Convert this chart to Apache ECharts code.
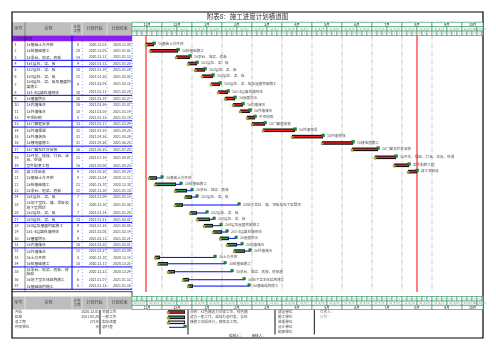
<!DOCTYPE html>
<html>
<head>
<meta charset="utf-8">
<title>施工进度计划横道图</title>
<script src="https://cdn.jsdelivr.net/npm/echarts@6.0.0/dist/echarts.min.js"></script>
<style>
html, body { margin: 0; padding: 0; background: #fff; }
#main { width: 496px; height: 351px; }
</style>
</head>
<body>
<div id="main"></div>
<script>
// ---- 数据 ----
var axisOrigin = '2020-11-17';   // 横道区第0天
var axisDays = 351;
var summaryRow = '工程总进度';
var taskNames = [
    '1#基础土方开挖', '1#桩基础施工', '1#承台、地梁、底板', '1#1层柱、梁、板', '1#2层柱、梁、板',
    '1#3层柱、梁、板', '1#4层柱、梁、板及屋面构架施工', '1#1-4层填充墙砌体', '1#屋面防水', '1#内墙抹灰',
    '1#外墙抹灰', '平顶粉刷', '1#门窗框安装', '1#外墙保温', '1#外墙装饰',
    '1#楼地面施工', '1#门窗及栏杆安装', '1#开关、插座、灯具、洁具、空调', '室外配套工程', '竣工预验收',
    '2#基础土方开挖', '2#桩基础施工', '2#承台、地梁、底板', '2#1层柱、梁、板', '2#地下室柱、墙、顶板及地下室回顶',
    '2#2层柱、梁、板', '2#3层柱、梁、板', '2#4层及屋面构架施工', '2#1-4层填充墙砌体', '2#屋面防水',
    '2#内墙抹灰', '2#外墙抹灰', '3#土方开挖', '3#桩基础施工', '3#承台、地梁、底板、砖胎模',
    '3#地下室主体结构施工', '3#基础结构施工'
];
var taskStarts = [
    '2020-12-01', '2020-12-05', '2020-12-31', '2021-01-12', '2021-01-19',
    '2021-01-26', '2021-02-04', '2021-02-11', '2021-02-18', '2021-02-26',
    '2021-03-05', '2021-03-12', '2021-03-17', '2021-03-28', '2021-04-26',
    '2021-05-26', '2021-06-25', '2021-07-18', '2021-08-06', '2021-08-20',
    '2020-12-04', '2020-12-10', '2020-12-30', '2021-01-09', '2020-12-30',
    '2021-01-14', '2021-01-21', '2021-01-28', '2021-02-06', '2021-02-13',
    '2021-02-20', '2021-02-27', '2020-12-10', '2020-12-13', '2020-12-23',
    '2021-01-07', '2021-01-12'
];
var taskDurations = [
    8, 28, 14, 9, 10, 11, 9, 10, 10, 10,
    10, 8, 13, 32, 31, 31, 26, 21, 15, 9,
    8, 21, 12, 7, 8, 7, 13, 9, 9, 9,
    10, 11, 5, 10, 7, 6, 5
];
// 非关键工作的最迟完成（蓝线终点），关键工作为 null
var taskLateFinish = [
    null, null, null, null, null, null, null, null, null, null,
    null, null, null, null, null, null, null, null, null, null,
    '2020-12-17', '2021-01-05', '2021-01-16', '2021-01-21', '2021-03-04',
    '2021-01-31', '2021-02-07', '2021-02-14', '2021-02-20', '2021-03-01',
    '2021-03-07', '2021-03-15', '2021-02-08', '2021-02-18', '2021-02-25',
    '2021-03-09', '2021-03-14'
];
var monthLabels = ['11月', '12月', '1月', '2月', '3月', '4月', '5月', '6月', '7月', '8月', '9月', '10月'];
var gridDays = [30, 60, 90, 120, 150, 180, 210, 240, 270, 300];
var headCols = ['序号', '名称', '计划\n工期', '计划开始', '计划结束'];
var legendNames = ['关键工作', '一般工作', '实际进度', '总时差'];
var infoLabels = ['开始', '结束', '总工期', '时间单位'];
var signUnits = ['建设单位', '施工单位', '监理单位', '设计单位', '勘察单位'];
var noteLines = ['说明：红色横道为关键工作，绿色横', '道为一般工作，蓝线为总时差，各栋', '楼施工穿插进行，确保总工期。'];
var blueRuleRows = [3, 4, 8, 9, 12, 13, 16, 17, 19, 23, 26, 27, 30, 31, 34];

// ---- 版式 ----
var FONT = '"Noto Sans CJK SC", "Noto Sans", sans-serif';
var GT = 35.5, GH = 256.5;
var ROW0 = 5.8, RH1 = 6.35, RH2 = 9.6;
var NAME_W = 45;
var colEdges = [12, 25, 72, 82, 107, 132];

var ORIGIN = Date.parse(axisOrigin + 'T00:00:00Z');
function dayOf(s) { return Math.round((Date.parse(s + 'T00:00:00Z') - ORIGIN) / 86400000); }
function dateOf(d) { return new Date(ORIGIN + d * 86400000).toISOString().slice(0, 10); }
function shortDate(d) {
    var t = new Date(ORIGIN + d * 86400000);
    return String(t.getUTCFullYear()).slice(2) + '/' + (t.getUTCMonth() + 1) + '/' + t.getUTCDate();
}
function textLen(s, fs) {
    var w = 0;
    for (var k = 0; k < s.length; k++) w += s.charCodeAt(k) > 255 ? fs : fs * 0.56;
    return w;
}

var rowTop = [];
(function () {
    var acc = ROW0;
    taskNames.forEach(function (n) {
        rowTop.push(acc);
        acc += textLen(n, 3.8) > NAME_W ? RH2 : RH1;
    });
    rowTop.push(acc);
})();

var tasks = taskNames.map(function (n, i) {
    var s = dayOf(taskStarts[i]);
    var e = s + taskDurations[i];
    var l = taskLateFinish[i] ? dayOf(taskLateFinish[i]) : -1;
    return [i, s, e, l];
});
var projStart = Math.min.apply(null, tasks.map(function (t) { return t[1]; }));
var projEnd = Math.max.apply(null, tasks.map(function (t) { return t[2]; }));
var infoValues = [dateOf(projStart), dateOf(projEnd - 1), (projEnd - projStart) + '天', '天'];

var headCells = [];
[30, 15, 5].forEach(function (step, tier) {
    for (var d = 0; d < axisDays; d += step) headCells.push([tier, d, Math.min(d + step, axisDays)]);
});

// ---- 绘制函数 ----
function txt(x, y, s, fs, align, fill) {
    return {
        type: 'text', x: x, y: y,
        style: { text: s, fontSize: fs, fontFamily: FONT, fill: fill || '#333', align: align || 'left', verticalAlign: 'middle' }
    };
}

function renderRow(params, api) {
    var i = api.value(0);
    var yTop = api.coord([0, rowTop[i]])[1], yBot = api.coord([0, rowTop[i + 1]])[1];
    var cy = (yTop + yBot) / 2;
    var X = function (v) { return api.coord([v, 0])[0]; };
    var t = tasks[i];
    var name = txt(X(14.5), cy, taskNames[i], 3.8, 'left');
    name.style.width = NAME_W;
    name.style.overflow = 'break';
    name.style.lineHeight = 4.4;
    return {
        type: 'group', children: [
            txt(X(2.5), cy, String(i + 1), 3.6, 'left'),
            name,
            txt(X(66), cy, String(taskDurations[i]), 3.6, 'center'),
            txt(X(94.3), cy, dateOf(t[1]), 3.4, 'right', '#444'),
            txt(X(118.7), cy, dateOf(t[2] - 1), 3.4, 'right', '#444')
        ]
    };
}

function renderBar(params, api) {
    var i = api.value(0), s = api.value(1), e = api.value(2), l = api.value(3);
    var cy = api.coord([0, (rowTop[i] + rowTop[i + 1]) / 2])[1];
    var x0 = api.coord([s, 0])[0], x1 = api.coord([e, 0])[0];
    var crit = l < 0;
    var kids = [];
    var tail = x1;
    if (!crit) {
        var xl = api.coord([l, 0])[0];
        kids.push({ type: 'line', shape: { x1: x1, y1: cy, x2: xl, y2: cy }, style: { stroke: '#0000ff', lineWidth: 1 } });
        kids.push({ type: 'rect', shape: { x: xl - 1.2, y: cy - 2.4, width: 2.6, height: 2.6 }, style: { fill: '#1e8c3a', stroke: '#0b4d1c', lineWidth: 0.4 } });
        tail = xl;
    }
    kids.push({ type: 'rect', shape: { x: x0, y: cy - 1.8, width: x1 - x0, height: 3.6 }, style: { fill: '#111' } });
    kids.push({ type: 'rect', shape: { x: x0 + 0.8, y: cy - 0.7, width: Math.max(x1 - x0 - 1.6, 0), height: 1.4 }, style: { fill: crit ? '#ff1a1a' : '#2f9e5a' } });
    kids.push({ type: 'rect', shape: { x: x0 - 0.8, y: cy - 0.6, width: 2.4, height: 2.4 }, style: { fill: '#c9b21b', stroke: '#333', lineWidth: 0.3 } });
    if (crit) {
        kids.push({ type: 'rect', shape: { x: x1 - 1.3, y: cy - 2.6, width: 2.8, height: 2.8 }, style: { fill: '#1e8c3a', stroke: '#0b4d1c', lineWidth: 0.4 } });
    }
    kids.push(txt(tail + 4, cy - 0.6, taskNames[i], 3.6, 'left', '#555'));
    return { type: 'group', children: kids };
}

function renderHead(band) {
    return function (params, api) {
        var cs = params.coordSys;
        var tier = api.value(0), d0 = api.value(1), d1 = api.value(2);
        var x0 = api.coord([d0, 0])[0], x1 = api.coord([d1, 0])[0];
        var h = 4.4;
        var y0 = band === 0 ? cs.y - 13.2 + tier * h : cs.y + cs.height + 4.5 + (2 - tier) * 4.3;
        var label, fs, fill;
        if (tier === 0) { label = monthLabels[Math.round(d0 / 30)] || ''; fs = 3.4; fill = '#222'; }
        else if (tier === 1) { label = shortDate(d0); fs = 2.8; fill = '#888'; }
        else { label = String(new Date(ORIGIN + d0 * 86400000).getUTCDate()); fs = 2.4; fill = '#999'; }
        return {
            type: 'group', children: [
                { type: 'rect', shape: { x: x0, y: y0, width: x1 - x0, height: h }, style: { fill: '#fff', stroke: '#3a9b6b', lineWidth: 0.7 } },
                txt((x0 + x1) / 2, y0 + h / 2 + 0.2, label, fs, 'center', fill)
            ]
        };
    };
}

function renderVLine(color, width, dash) {
    return function (params, api) {
        var cs = params.coordSys;
        var x = api.coord([api.value(0), 0])[0];
        return { type: 'line', shape: { x1: x, y1: cs.y, x2: x, y2: cs.y + cs.height }, style: { stroke: color, lineWidth: width, lineDash: dash } };
    };
}

// ---- 固定图形：边框、表头、图例 ----
var G = [];
function gLine(x1, y1, x2, y2, stroke, lw, dash) {
    G.push({ type: 'line', shape: { x1: x1, y1: y1, x2: x2, y2: y2 }, style: { stroke: stroke, lineWidth: lw, lineDash: dash || null }, silent: true });
}
function gRect(x, y, w, h, fill, stroke, lw) {
    G.push({ type: 'rect', shape: { x: x, y: y, width: w, height: h }, style: { fill: fill || 'none', stroke: stroke || null, lineWidth: lw || 0 }, silent: true });
}
function gText(x, y, s, fs, align, fill, extra) {
    var st = { text: s, fontSize: fs, fontFamily: FONT, fill: fill || '#222', align: align || 'left', verticalAlign: 'middle' };
    if (extra) for (var k in extra) st[k] = extra[k];
    G.push({ type: 'text', x: x, y: y, style: st, silent: true });
}

gText(247.5, 16.8, '附表8：施工进度计划横道图', 6.5, 'center', '#333');

[[22.3, 13.2], [296.5, 12.9]].forEach(function (b) {
    gRect(12, b[0], 120, b[1], '#bdbdbd');
    for (var c = 0; c < 5; c++) {
        var cx = (colEdges[c] + colEdges[c + 1]) / 2;
        gText(cx, b[0] + b[1] / 2, headCols[c], c === 2 ? 3.4 : 4, 'center', '#444', { lineHeight: 4.2 });
        if (c > 0) gLine(colEdges[c], b[0], colEdges[c], b[0] + b[1], '#e8e8e8', 0.8);
    }
});

gRect(12, GT, 120, ROW0, '#8a1ef0');
gText(14.5, GT + ROW0 / 2, summaryRow, 3.6, 'left', '#2a2a2a');

var tableEnd = GT + rowTop[rowTop.length - 1];
gLine(25, 22.3, 25, 291.7, '#111', 0.5);
gLine(72, GT, 72, tableEnd, '#0000ff', 1);
gLine(82.3, GT + ROW0, 82.3, tableEnd, '#3355ff', 0.7, [0.8, 2.5]);
gLine(107, GT + ROW0, 107, tableEnd, '#3355ff', 0.7, [0.8, 2.5]);
gLine(132, GT, 132, 291.7, '#3355ff', 0.8, [1, 1.5]);
blueRuleRows.forEach(function (r) {
    var y = GT + rowTop[r];
    gLine(12, y, 132, y, '#0000ff', 1);
});
gLine(12, tableEnd, 132, tableEnd, '#0000ff', 1);
gLine(12, 291.7, 132, 291.7, '#111', 0.8);
gLine(132, 291.7, 132, 296.5, '#111', 0.8);

// 图例区
var legY = [311.3, 316.4, 321.4, 326.4];
infoLabels.forEach(function (s, k) {
    gText(15, legY[k], s, 3.6, 'left', '#444');
    gText(99, legY[k], infoValues[k], 3.4, 'right', '#444');
    gText(102, legY[k], legendNames[k], 3.6, 'left', '#444');
});
gLine(100, 310, 100, 334.3, '#111', 1);
gLine(188, 309.4, 188, 334.5, '#111', 1);
gLine(275, 309.4, 275, 334.5, '#111', 1);
gLine(314.3, 309.4, 314.3, 334.5, '#111', 1);
[['#ff1a1a', 312], ['#2f9e5a', 317.3], ['#e8e8e8', 322.3]].forEach(function (sw) {
    gRect(168, sw[1] - 1.8, 17, 3.6, '#111');
    gRect(168.8, sw[1] - 0.7, 15.4, 1.4, sw[0]);
    gRect(167.2, sw[1] - 0.6, 2.4, 2.4, '#c9b21b', '#333', 0.3);
});
gLine(169, 327.3, 184, 327.3, '#0000ff', 1);
gRect(183.8, 325, 2.6, 2.6, '#1e8c3a', '#0b4d1c', 0.4);
noteLines.forEach(function (s, k) { gText(190, 311.3 + k * 5, s, 3.6, 'left', '#555'); });
signUnits.forEach(function (s, k) { gText(278, 311.7 + k * 5.1, s, 3.6, 'left', '#444'); });
gText(320, 311.5, '负责人：', 3.6, 'left', '#777');
gText(320, 316.5, '日期：', 3.6, 'left', '#aaa');
gText(247.5, 335.2, '编制人：          审核人：', 3.6, 'center', '#444');
gRect(12, 12, 471, 326, 'none', '#000', 1.2);

var chart = echarts.init(document.getElementById('main'));
chart.setOption({
    animation: false,
    backgroundColor: '#fff',
    grid: [
        { left: 12, top: GT, width: 120, height: GH },
        { left: 132, top: GT, width: 351, height: GH }
    ],
    xAxis: [
        { gridIndex: 0, type: 'value', min: 0, max: 120, show: false },
        { gridIndex: 1, type: 'value', min: 0, max: axisDays, show: false }
    ],
    yAxis: [
        { gridIndex: 0, type: 'value', min: 0, max: GH, inverse: true, show: false },
        { gridIndex: 1, type: 'value', min: 0, max: GH, inverse: true, show: false }
    ],
    graphic: G,
    series: [
        { type: 'custom', name: 'table', xAxisIndex: 0, yAxisIndex: 0, data: tasks.map(function (t) { return [t[0]]; }), renderItem: renderRow, z: 3 },
        { type: 'custom', name: 'grid', xAxisIndex: 1, yAxisIndex: 1, data: gridDays.map(function (d) { return [d]; }), renderItem: renderVLine('#b4b4b4', 0.8, [4, 1.5, 1, 1.5]), z: 1 },
        { type: 'custom', name: 'milestone', xAxisIndex: 1, yAxisIndex: 1, data: [[projStart], [projEnd]], renderItem: renderVLine('#ff0000', 1, null), z: 2 },
        { type: 'custom', name: 'bars', xAxisIndex: 1, yAxisIndex: 1, data: tasks, renderItem: renderBar, z: 4 },
        { type: 'custom', name: 'headTop', xAxisIndex: 1, yAxisIndex: 1, data: headCells, renderItem: renderHead(0), z: 3 },
        { type: 'custom', name: 'headBottom', xAxisIndex: 1, yAxisIndex: 1, data: headCells, renderItem: renderHead(1), z: 3 }
    ]
});
</script>
</body>
</html>
